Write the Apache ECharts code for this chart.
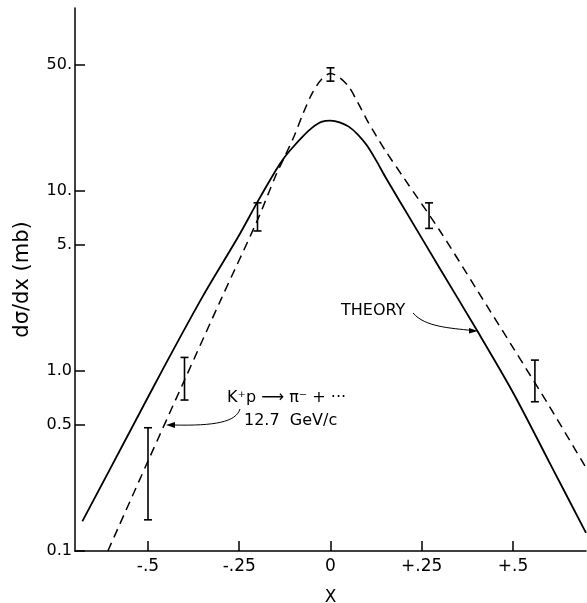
<!DOCTYPE html>
<html><head><meta charset="utf-8">
<script src="https://cdn.jsdelivr.net/npm/echarts@6/dist/echarts.min.js"></script>
<style>html,body{margin:0;padding:0;background:#fff}#c{width:587px;height:603px}</style>
</head><body><div id="c"></div>
<script>
// Tick positions and labels
const yTicks = [0.1, 0.5, 1, 5, 10, 50];
const yTickLabels = ['0.1', '0.5', '1.0', '5.', '10.', '50.'];
const xTicks = [-0.5, -0.25, 0, 0.25, 0.5];
const xTickLabels = ['-.5', '-.25', '0', '+.25', '+.5'];

// Theory curve (solid)
const theoryX = [-0.68, -0.55, -0.45, -0.35, -0.25, -0.2, -0.15, -0.125, -0.1, -0.075, -0.05, -0.025, 0, 0.025, 0.05, 0.075, 0.1, 0.125, 0.15, 0.2, 0.3, 0.4, 0.5, 0.6, 0.7];
const theoryY = [0.146, 0.46, 1.11, 2.6, 5.7, 8.7, 13.0, 15.5, 17.8, 20.2, 22.5, 24.2, 24.6, 24.1, 22.8, 20.6, 17.9, 14.8, 12.0, 8.1, 3.7, 1.7, 0.76, 0.31, 0.126];

// Fit to data (dashed)
const fitX = [-0.61, -0.5, -0.4, -0.3, -0.2, -0.15, -0.125, -0.1, -0.075, -0.05, -0.025, 0, 0.025, 0.05, 0.075, 0.1, 0.125, 0.15, 0.2, 0.3, 0.4, 0.5, 0.6, 0.7];
const fitY = [0.1, 0.316, 0.89, 2.5, 6.9, 12.2, 15.6, 20.1, 27.0, 35.0, 41.7, 45, 42.7, 38.0, 31.0, 24.8, 20.3, 16.8, 11.9, 6.0, 2.85, 1.35, 0.635, 0.29];

// Data error bars
const errX = [-0.5, -0.4, -0.2, 0, 0.27, 0.56];
const errLow = [0.149, 0.69, 6.0, 40.8, 6.2, 0.675];
const errHigh = [0.484, 1.19, 8.6, 48.4, 8.6, 1.15];

const FONT = '"DejaVu Sans", "Liberation Sans", sans-serif';
const chart = echarts.init(document.getElementById('c'));

function pairs(xs, ys) { return xs.map((x, i) => [x, ys[i]]); }
function yFmt(v) {
  for (let i = 0; i < yTicks.length; i++) if (Math.abs(yTicks[i] - v) / yTicks[i] < 1e-4) return yTickLabels[i];
  return '';
}
function xFmt(v) {
  for (let i = 0; i < xTicks.length; i++) if (Math.abs(xTicks[i] - v) < 1e-6) return xTickLabels[i];
  return '';
}

chart.setOption({
  animation: false,
  backgroundColor: '#fff',
  grid: { left: 75, right: 1, top: 8, bottom: 52, outerBoundsMode: 'none', containLabel: false },
  xAxis: {
    type: 'value', min: -0.7, max: 0.7,
    name: 'X', nameLocation: 'middle', nameGap: 38,
    nameTextStyle: { color: '#000', fontSize: 17, fontFamily: FONT },
    axisLine: { onZero: false, lineStyle: { color: '#000', width: 1.5 } },
    axisTick: { inside: true, length: 10, customValues: xTicks, lineStyle: { color: '#000', width: 1.5 } },
    axisLabel: { customValues: xTicks, formatter: xFmt, color: '#000', fontSize: 17, fontFamily: FONT, margin: 7 },
    splitLine: { show: false }
  },
  yAxis: {
    type: 'log', logBase: 10, min: 0.1, max: 104,
    name: 'd\u03c3/dx (mb)', nameLocation: 'middle', nameGap: 42, nameRotate: 90,
    nameTextStyle: { color: '#000', fontSize: 21, fontFamily: FONT },
    axisLine: { onZero: false, lineStyle: { color: '#000', width: 1.5 } },
    axisTick: { inside: true, length: 10, customValues: yTicks, lineStyle: { color: '#000', width: 1.5 } },
    axisLabel: { customValues: yTicks, formatter: yFmt, color: '#000', fontSize: 16, fontFamily: FONT, margin: 3 },
    splitLine: { show: false }
  },
  series: [
    {
      name: 'Theory', type: 'line', data: pairs(theoryX, theoryY),
      showSymbol: false, smooth: 0.3,
      lineStyle: { color: '#000', width: 1.8 }
    },
    {
      name: 'Fit', type: 'line', data: pairs(fitX, fitY),
      showSymbol: false, smooth: 0.3,
      lineStyle: { color: '#000', width: 1.5, type: [9, 6] }
    },
    {
      name: 'Data', type: 'custom',
      data: errX.map((x, i) => [x, errLow[i], errHigh[i]]),
      renderItem: function (params, api) {
        const lo = api.coord([api.value(0), api.value(1)]);
        const hi = api.coord([api.value(0), api.value(2)]);
        const w = 4;
        const st = { stroke: '#000', lineWidth: 1.6 };
        return {
          type: 'group',
          children: [
            { type: 'line', shape: { x1: lo[0], y1: lo[1], x2: hi[0], y2: hi[1] }, style: st },
            { type: 'line', shape: { x1: lo[0] - w, y1: lo[1], x2: lo[0] + w, y2: lo[1] }, style: st },
            { type: 'line', shape: { x1: hi[0] - w, y1: hi[1], x2: hi[0] + w, y2: hi[1] }, style: st }
          ]
        };
      },
      encode: { x: 0, y: [1, 2] }
    }
  ],
  graphic: [
    { type: 'text', left: 341, top: 303, style: { text: 'THEORY', fill: '#000', font: '16px ' + FONT } },
    { type: 'bezierCurve', shape: { x1: 413, y1: 313, cpx1: 425, cpy1: 327, cpx2: 450, cpy2: 328, x2: 472, y2: 330.5 }, style: { stroke: '#000', lineWidth: 1, fill: null } },
    { type: 'polygon', shape: { points: [[478, 331], [469, 328], [469, 333.5]] }, style: { fill: '#000' } },
    { type: 'text', left: 227, top: 390, style: { text: 'K\u207Ap \u27F6 \u03C0\u207B + \u00B7\u00B7\u00B7', fill: '#000', font: '16px ' + FONT } },
    { type: 'text', left: 244, top: 413, style: { text: '12.7  GeV/c', fill: '#000', font: '16px ' + FONT } },
    { type: 'bezierCurve', shape: { x1: 240, y1: 409, cpx1: 236, cpy1: 422, cpx2: 215, cpy2: 426, x2: 173, y2: 425 }, style: { stroke: '#000', lineWidth: 1, fill: null } },
    { type: 'polygon', shape: { points: [[166, 425], [175, 422], [175, 428]] }, style: { fill: '#000' } }
  ]
});
</script></body></html>
